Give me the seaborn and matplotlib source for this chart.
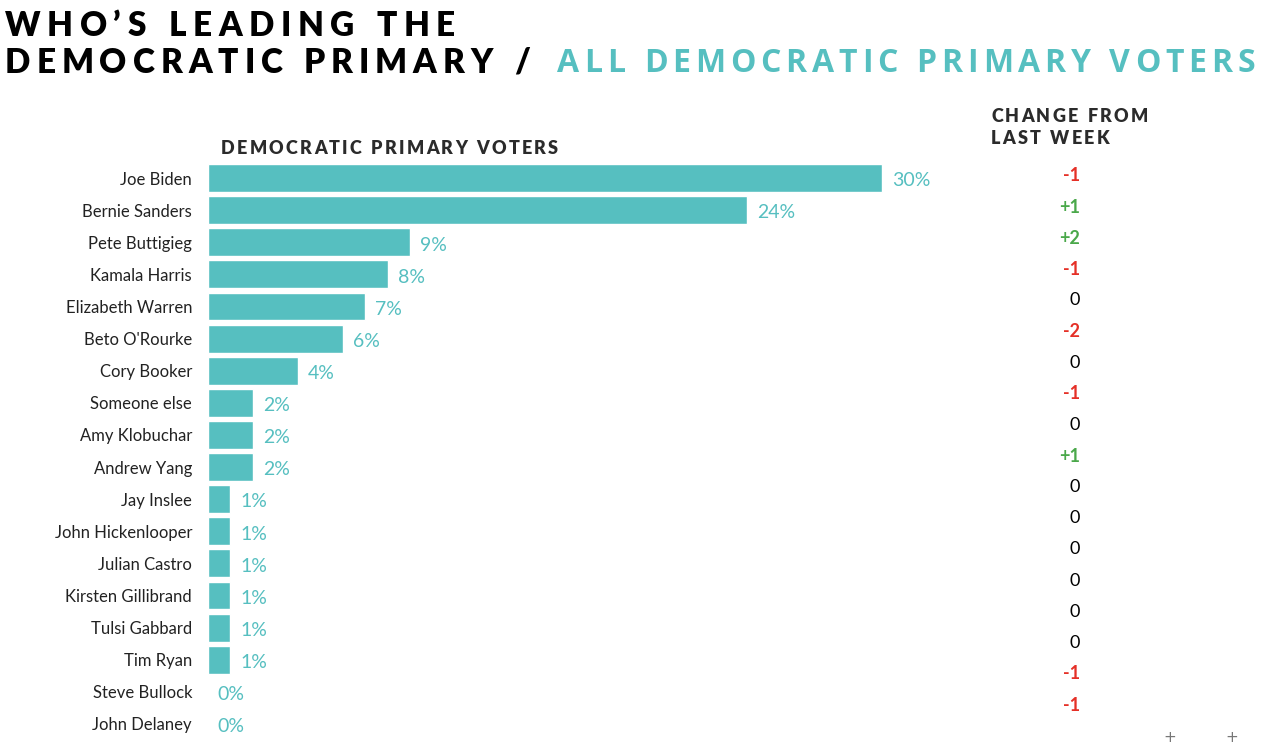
import matplotlib
matplotlib.use('Agg')
import matplotlib.pyplot as plt
from matplotlib.transforms import IdentityTransform
import seaborn as sns
import pandas as pd

# data
candidatos = ['Joe Biden', 'Bernie Sanders', 'Pete Buttigieg', 'Kamala Harris',
              'Elizabeth Warren', "Beto O'Rourke", 'Cory Booker', 'Someone else',
              'Amy Klobuchar', 'Andrew Yang', 'Jay Inslee', 'John Hickenlooper',
              'Julian Castro', 'Kirsten Gillibrand', 'Tulsi Gabbard', 'Tim Ryan',
              'Steve Bullock', 'John Delaney']
porcentajes = [30, 24, 9, 8, 7, 6, 4, 2, 2, 2, 1, 1, 1, 1, 1, 1, 0, 0]
cambios = [-1, 1, 2, -1, 0, -2, 0, -1, 0, 1, 0, 0, 0, 0, 0, 0, -1, -1]

TEAL = '#56bfc0'
ROJO = '#e53027'
VERDE = '#4aa84a'
OSCURO = '#222222'

sns.set_style('white')
plt.rcParams['font.family'] = ['Lato', 'DejaVu Sans']

W, H = 1280, 749
fig = plt.figure(figsize=(W / 100, H / 100), dpi=100)
renderer = fig.canvas.get_renderer()


def texto_espaciado(x0, x1, base, s, color, size, family='Lato', weight='bold'):
    # draw letters one by one so the word fills [x0, x1] (pixels from left, baseline from top)
    partes = []
    ancho = 0
    for ch in s:
        if ch == ' ':
            partes.append((ch, None, size * 1.39 * 0.28))
            ancho += size * 1.39 * 0.28
            continue
        t = fig.text(0, 0, ch, transform=IdentityTransform(), fontsize=size,
                     fontweight=weight, family=family, color=color, va='baseline')
        w = t.get_window_extent(renderer).width
        partes.append((ch, t, w))
        ancho += w
    hueco = (x1 - x0 - ancho) / max(len(s) - 1, 1)
    x = x0
    for ch, t, w in partes:
        if t is not None:
            t.set_position((x, H - base))
        x += w + hueco


# bars
df = pd.DataFrame({'candidato': candidatos, 'pct': porcentajes})
top_px, bot_px = 162, 740
ax = fig.add_axes([208 / W, (H - bot_px) / H, 899 / W, (bot_px - top_px) / H])
sns.barplot(data=df, y='candidato', x='pct', color=TEAL, saturation=1,
            width=0.87, orient='h', ax=ax)
ax.set_xlim(0, 40)
ax.set_ylim(len(candidatos) - 0.5, -0.5)
ax.set_xlabel('')
ax.set_ylabel('')
ax.set_xticks([])
sns.despine(ax=ax, left=True, bottom=True)
ax.tick_params(axis='y', length=0, pad=11.5, labelsize=12, labelcolor=OSCURO)
for lbl in ax.get_yticklabels():
    lbl.set_family(['Lato', 'DejaVu Sans'])
for i, v in enumerate(porcentajes):
    ax.annotate(f'{v}%', (v, i), xytext=(7, -2), textcoords='offset points',
                ha='left', va='center', fontsize=14, color=TEAL)

# change column
ax2 = fig.add_axes([1000 / W, (H - 720.6) / H, 100 / W, (720.6 - 160.4) / H])
ax2.set_xlim(0, 1)
ax2.set_ylim(len(cambios) - 0.5, -0.5)
ax2.axis('off')
for i, c in enumerate(cambios):
    if c > 0:
        txt, col, wt = f'+{c}', VERDE, 'bold'
    elif c < 0:
        txt, col, wt = f'-{abs(c)}', ROJO, 'bold'
    else:
        txt, col, wt = '0', 'black', 'normal'
    ax2.text(0.8, i, txt, ha='right', va='center', fontsize=13, color=col, fontweight=wt)

# titles
texto_espaciado(5, 455, 36, 'WHO’S LEADING THE', 'black', 24, weight='heavy')
texto_espaciado(5, 530, 73, 'DEMOCRATIC PRIMARY /', 'black', 24, weight='heavy')
texto_espaciado(557, 1255, 72, 'ALL DEMOCRATIC PRIMARY VOTERS', TEAL, 23,
                family='Open Sans', weight='bold')
texto_espaciado(221, 558, 154, 'DEMOCRATIC PRIMARY VOTERS', '#2b2b2b', 13, weight='heavy')
texto_espaciado(991, 1148, 122, 'CHANGE FROM', '#2b2b2b', 13, weight='heavy')
texto_espaciado(991, 1109, 144, 'LAST WEEK', '#2b2b2b', 13, weight='heavy')

for xp in (1170, 1232):
    fig.text(xp, H - 738, '+', transform=IdentityTransform(), fontsize=11,
             color='#777777', ha='center', va='center', family='DejaVu Sans')

fig.savefig('out.png', dpi=100)
